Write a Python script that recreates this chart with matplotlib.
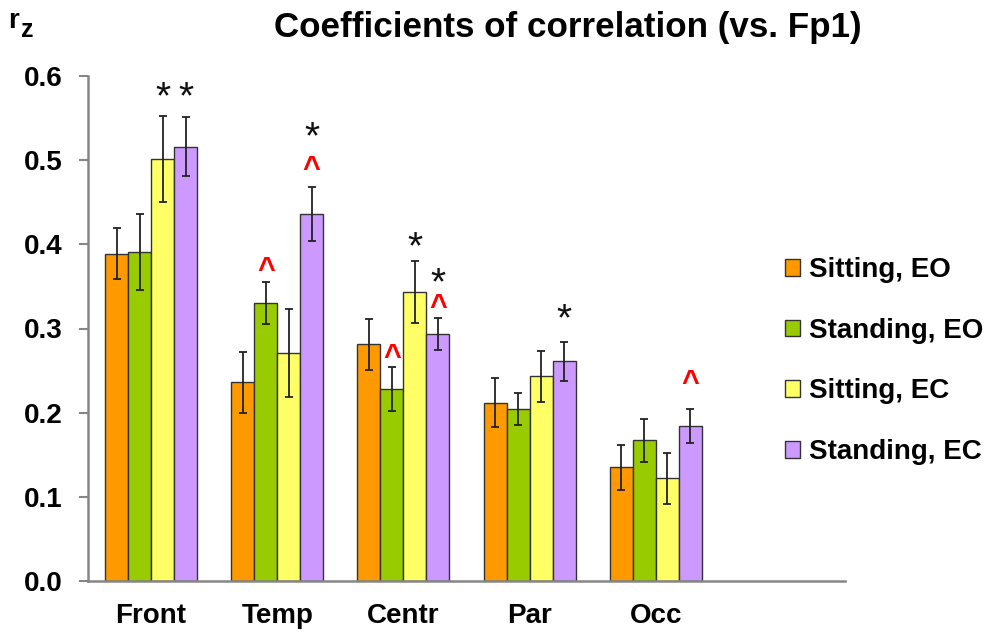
import numpy as np
import matplotlib.pyplot as plt

plt.rcParams['font.family'] = ['Liberation Sans', 'DejaVu Sans']
plt.rcParams['font.weight'] = 'bold'

regions = ['Front', 'Temp', 'Centr', 'Par', 'Occ']
conditions = ['Sitting, EO', 'Standing, EO', 'Sitting, EC', 'Standing, EC']
colors = ['#FF9900', '#99CC00', '#FFFF66', '#CC99FF']

# mean r_z per condition, one value per region
sit_eo = [0.389, 0.236, 0.281, 0.212, 0.135]
stand_eo = [0.391, 0.330, 0.228, 0.204, 0.167]
sit_ec = [0.501, 0.271, 0.343, 0.243, 0.122]
stand_ec = [0.516, 0.436, 0.294, 0.261, 0.184]

# error bar half-lengths
sit_eo_err = [0.030, 0.036, 0.030, 0.029, 0.027]
stand_eo_err = [0.045, 0.025, 0.026, 0.019, 0.026]
sit_ec_err = [0.051, 0.052, 0.037, 0.030, 0.030]
stand_ec_err = [0.035, 0.032, 0.019, 0.023, 0.020]

# significance marks: (condition index, region index, y of mark)
stars = [(2, 0, 0.584), (3, 0, 0.584), (3, 1, 0.536), (2, 2, 0.405),
         (3, 2, 0.362), (3, 3, 0.320)]
carets = [(1, 1, 0.378), (3, 1, 0.498), (1, 2, 0.274), (3, 2, 0.334),
          (3, 4, 0.243)]

means = [sit_eo, stand_eo, sit_ec, stand_ec]
errs = [sit_eo_err, stand_eo_err, sit_ec_err, stand_ec_err]

fig = plt.figure(figsize=(9.97, 6.34), dpi=100)
ax = fig.add_axes([88/997, 53/634, 757/997, 505/634])

x = np.arange(len(regions))
width = 0.182
offsets = (np.arange(4) - 1.5) * width

for i in range(4):
    ax.bar(x + offsets[i], means[i], width, color=colors[i], edgecolor='#333333',
           linewidth=1.0, label=conditions[i], zorder=2)
    ax.errorbar(x + offsets[i], means[i], yerr=errs[i], fmt='none', ecolor='#222222',
                elinewidth=1.3, capsize=3, capthick=1.3, zorder=3)

# marks are placed by their visual centre
for ci, ri, y in stars:
    ax.annotate('*', (x[ri] + offsets[ci], y), xytext=(0, -0.58 * 28 + 3), textcoords='offset points',
                ha='center', va='baseline', fontsize=28, fontweight='normal', color='#111111')
for ci, ri, y in carets:
    ax.annotate('^', (x[ri] + offsets[ci], y), xytext=(0, -0.52 * 22), textcoords='offset points',
                ha='center', va='baseline', fontsize=22, fontweight='bold', color='#FF0000')

ax.set_xlim(-0.5, 5.5)
ax.set_ylim(0, 0.6)
ax.set_yticks(np.arange(0, 0.61, 0.1))
ax.set_yticklabels([f'{v:.1f}' for v in np.arange(0, 0.61, 0.1)])
ax.set_xticks(x)
ax.set_xticklabels(regions)
ax.tick_params(axis='y', length=6.5, width=1.5, color='#868686', pad=12, labelsize=20)
ax.tick_params(axis='x', length=0, pad=16, labelsize=20)
for side in ['top', 'right']:
    ax.spines[side].set_visible(False)
for side in ['left', 'bottom']:
    ax.spines[side].set_color('#868686')
    ax.spines[side].set_linewidth(1.8)

ax.legend(loc='upper left', bbox_to_anchor=(785/997, 1 - 257/634), bbox_transform=fig.transFigure,
          frameon=False, fontsize=20, handlelength=0.55, handleheight=0.55,
          handletextpad=0.3, labelspacing=1.25, borderpad=0, borderaxespad=0)

fig.text(568/997, 1 - 37/634, 'Coefficients of correlation (vs. Fp1)', ha='center',
         va='baseline', fontsize=25.2, fontweight='bold')
fig.text(8/997, 1 - 28/634, 'r', ha='left', va='baseline', fontsize=20, fontweight='bold')
fig.text(21/997, 1 - 37/634, 'z', ha='left', va='baseline', fontsize=18, fontweight='bold')

plt.savefig('out.png', dpi=100)
